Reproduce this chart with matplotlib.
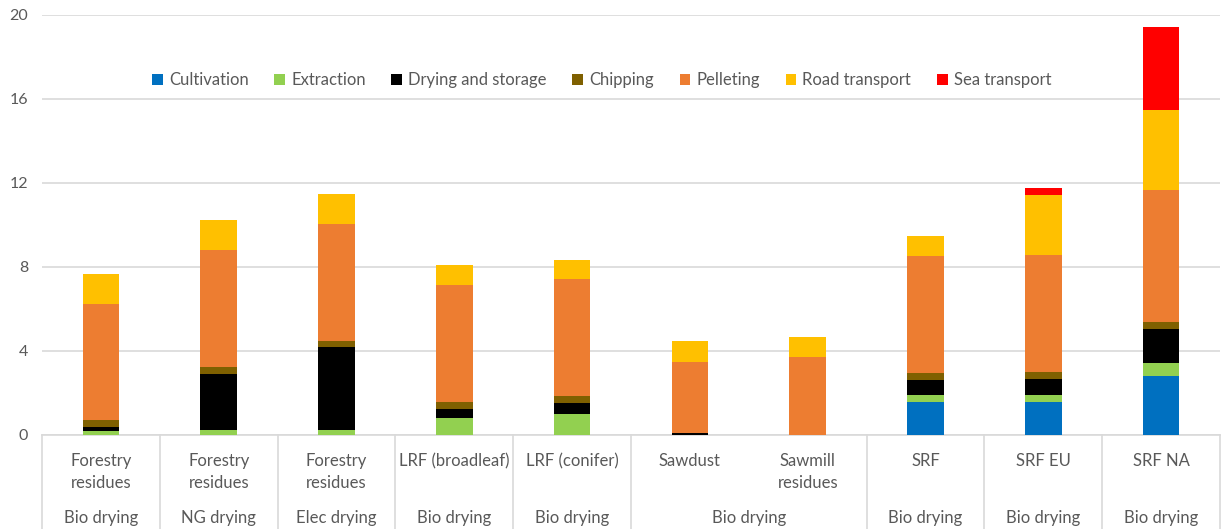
import matplotlib
matplotlib.use("Agg")
import matplotlib.pyplot as plt
import matplotlib.transforms as mtransforms
import numpy as np

plt.rcParams["font.family"] = ["Lato", "DejaVu Sans"]

# 카테고리 (두 단계 라벨)
feedstocks = ["Forestry\nresidues", "Forestry\nresidues", "Forestry\nresidues",
              "LRF (broadleaf)", "LRF (conifer)", "Sawdust", "Sawmill\nresidues",
              "SRF", "SRF EU", "SRF NA"]
drying_groups = ["Bio drying", "NG drying", "Elec drying", "Bio drying", "Bio drying",
                 "Bio drying", "Bio drying", "Bio drying", "Bio drying", "Bio drying"]
group_spans = [1, 1, 1, 1, 1, 2, 1, 1, 1]  # Sawdust + Sawmill 은 같은 그룹

# 단계별 값
cultivation = [0, 0, 0, 0, 0, 0, 0, 1.59, 1.59, 2.81]
extraction = [0.20, 0.22, 0.22, 0.79, 1.00, 0, 0, 0.31, 0.31, 0.62]
drying = [0.19, 2.67, 3.98, 0.46, 0.52, 0.10, 0, 0.73, 0.78, 1.63]
chipping = [0.34, 0.33, 0.28, 0.34, 0.34, 0, 0, 0.34, 0.34, 0.34]
pelleting = [5.52, 5.59, 5.57, 5.57, 5.55, 3.39, 3.73, 5.57, 5.57, 6.28]
road = [1.43, 1.43, 1.43, 0.92, 0.92, 0.99, 0.94, 0.92, 2.84, 3.82]
sea = [0, 0, 0, 0, 0, 0, 0, 0, 0.32, 3.93]

series = [
    ("Cultivation", cultivation, "#0070C0"),
    ("Extraction", extraction, "#92D050"),
    ("Drying and storage", drying, "#000000"),
    ("Chipping", chipping, "#7F6000"),
    ("Pelleting", pelleting, "#ED7D31"),
    ("Road transport", road, "#FFC000"),
    ("Sea transport", sea, "#FF0000"),
]

fig = plt.figure(figsize=(12.22, 5.29), dpi=100)
ax = fig.add_axes([42 / 1222, 94 / 529, 1178 / 1222, 420 / 529])

x = np.arange(len(feedstocks))
bottom = np.zeros(len(feedstocks))
for name, vals, color in series:
    vals = np.array(vals)
    ax.bar(x, vals, width=0.31, bottom=bottom, color=color, label=name, zorder=3)
    bottom += vals

ax.set_xlim(-0.5, len(feedstocks) - 0.5)
ax.set_ylim(0, 20)
ax.set_yticks([0, 4, 8, 12, 16, 20])
ax.tick_params(axis="y", length=0, labelsize=11.5, labelcolor="#595959", pad=10)
ax.set_xticks([])
ax.grid(axis="y", color="#d9d9d9", linewidth=1.2, zorder=0)
for s in ["left", "right", "top"]:
    ax.spines[s].set_visible(False)
ax.spines["bottom"].set_color("#d9d9d9")
ax.spines["bottom"].set_linewidth(1.2)

# 카테고리 라벨 표
trans = mtransforms.blended_transform_factory(ax.transData, ax.transAxes)
grey = "#595959"
box_bottom = -94 / 420
for i, lab in enumerate(feedstocks):
    ax.text(i, -18 / 420, lab, transform=trans, ha="center", va="top",
            fontsize=12, color=grey, linespacing=1.5)

pos = 0
edges = [-0.5]
for span in group_spans:
    center = pos + (span - 1) / 2
    ax.text(center, -83 / 420, drying_groups[pos], transform=trans, ha="center",
            va="center", fontsize=12, color=grey)
    pos += span
    edges.append(pos - 0.5)
for e in edges:
    ax.plot([e, e], [0, box_bottom], transform=trans, color="#d9d9d9",
            linewidth=1.2, clip_on=False)

ax.legend(loc="center", bbox_to_anchor=(0.475, 0.845), ncol=7, frameon=False,
          fontsize=12, handlelength=0.65, handleheight=0.65, handletextpad=0.35,
          columnspacing=1.55, labelcolor=grey)

fig.savefig("out.png", dpi=100)
